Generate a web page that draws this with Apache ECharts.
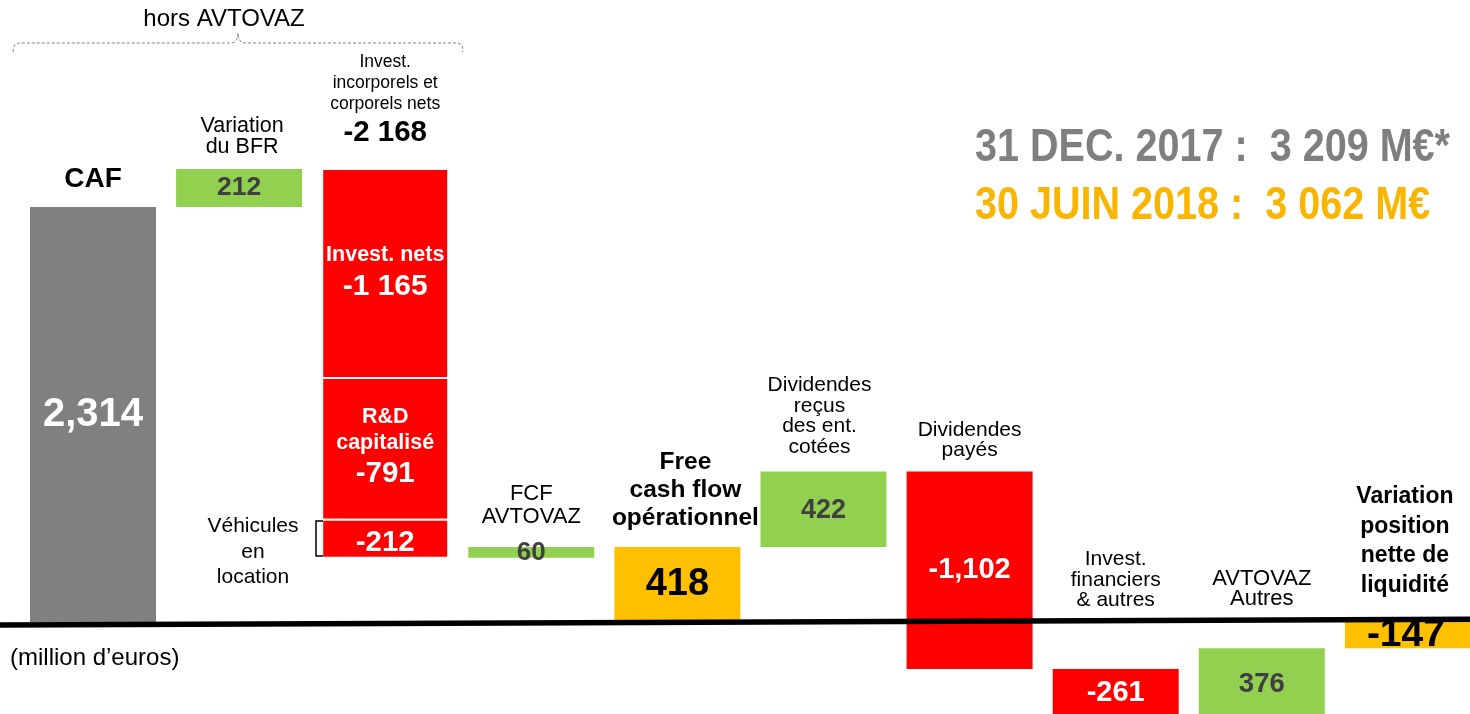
<!DOCTYPE html>
<html>
<head>
<meta charset="utf-8">
<script src="https://cdn.jsdelivr.net/npm/echarts@6/dist/echarts.min.js"></script>
<style>
html,body{margin:0;padding:0;background:#fff;}
#chart{width:1470px;height:714px;}
</style>
</head>
<body>
<div id="chart"></div>
<script>
// ---------- DATA ----------
const categories = ['CAF', 'Variation du BFR', 'Invest. incorporels et corporels nets', 'FCF AVTOVAZ',
  'Free cash flow opérationnel', 'Dividendes reçus des ent. cotées', 'Dividendes payés',
  'Invest. financiers & autres', 'AVTOVAZ Autres', 'Variation position nette de liquidité'];
const values = [2314, 212, -2168, 60, 418, 422, -1102, -261, 376, -147];
const kinds = ['total', 'delta', 'delta', 'delta', 'total', 'delta', 'delta', 'delta', 'delta', 'total'];
const investParts = [-1165, -791, -212];
const investPartNames = ['Invest. nets', 'R&D capitalisé', 'Véhicules en location'];
const valueLabels = ['2,314', '212', '-2 168', '60', '418', '422', '-1,102', '-261', '376', '-147'];
const investPartLabels = ['-1 165', '-791', '-212'];
const openingCash = '31 DEC. 2017 :  3 209 M€*';
const closingCash = '30 JUIN 2018 :  3 062 M€';

// ---------- STYLE ----------
const GRAY = '#808080', GREEN = '#92D050', RED = '#FF0000', ORANGE = '#FFC000';
const FONT = "'Liberation Sans', Arial, sans-serif";
const BAR_W = 126;
const X_MIN = -0.6366, X_MAX = 9.425;

// build waterfall items [x, low, high] from the values
const items = [];
const fills = [];
const splitFlags = [];
let running = 0;
values.forEach((v, i) => {
  if (kinds[i] === 'total') {
    items.push([i, Math.min(0, v), Math.max(0, v)]);
    fills.push(i === 0 ? GRAY : ORANGE);
    splitFlags.push(false);
    running = v;
  } else if (i === 2) {
    investParts.forEach(p => {
      const s = running, e = running + p;
      items.push([i, Math.min(s, e), Math.max(s, e)]);
      fills.push(RED);
      splitFlags.push(true);
      running = e;
    });
  } else {
    const s = running, e = running + v;
    items.push([i, Math.min(s, e), Math.max(s, e)]);
    fills.push(v >= 0 ? GREEN : RED);
    splitFlags.push(false);
    running = e;
  }
});

const chart = echarts.init(document.getElementById('chart'), null, {renderer: 'canvas'});
chart.setOption({
  animation: false,
  grid: {left: 0, right: 0, top: 0, bottom: 0},
  xAxis: {type: 'value', min: X_MIN, max: X_MAX, show: false},
  yAxis: {type: 'value', min: -513, max: 3469, show: false},
  series: [
    {
      type: 'custom',
      data: items,
      z: 2,
      clip: false,
      renderItem: function (params, api) {
        const x = api.value(0), lo = api.value(1), hi = api.value(2);
        const pTop = api.coord([x, hi]);
        const pBot = api.coord([x, lo]);
        const split = splitFlags[params.dataIndex];
        return {
          type: 'rect',
          shape: {x: pTop[0] - BAR_W / 2, y: pTop[1], width: BAR_W, height: pBot[1] - pTop[1]},
          style: {fill: fills[params.dataIndex], stroke: split ? '#fff' : null, lineWidth: split ? 2 : 0}
        };
      }
    },
    {
      // zero baseline (slightly tilted as in the source slide)
      type: 'line',
      z: 10,
      symbol: 'none',
      silent: true,
      data: [[X_MIN, -16], [X_MAX, 16]],
      lineStyle: {color: '#000', width: 5.5}
    }
  ]
});

function cx(i) { return chart.convertToPixel({gridIndex: 0}, [i, 0])[0]; }

function txt(x, y, text, size, opts) {
  opts = opts || {};
  return {
    type: 'text', x: x, y: y, z: 100,
    scaleX: opts.scaleX || 1,
    style: {
      text: text,
      font: (opts.bold ? 'bold ' : '') + size + 'px ' + FONT,
      fill: opts.color || '#000',
      align: opts.align || 'center', textAlign: opts.align || 'center',
      verticalAlign: 'middle', textVerticalAlign: 'middle',
      lineHeight: opts.lh || Math.round(size * 1.15)
    }
  };
}

const DARK = '#404040';
const g = [];
// header brace
g.push(txt(224, 19, 'hors AVTOVAZ', 24));
g.push({
  type: 'polyline', z: 100,
  shape: {points: [[13, 52], [13.5, 47], [15.5, 44], [19, 43], [231, 43], [235, 42], [237.5, 38], [238, 33],
    [238.5, 38], [241, 42], [245, 43], [457, 43], [460.5, 44], [462.5, 47], [463, 52]]},
  style: {fill: null, stroke: '#808080', lineWidth: 1, lineDash: [3, 2]}
});
// title
g.push(txt(975, 148, openingCash, 46, {bold: true, color: '#7F7F7F', align: 'left', scaleX: 0.86}));
g.push(txt(975, 206, closingCash, 46, {bold: true, color: '#F9B500', align: 'left', scaleX: 0.86}));
g.push(txt(10, 658, '(million d\u2019euros)', 24, {align: 'left'}));

// CAF
g.push(txt(cx(0), 179, 'CAF', 28, {bold: true}));
g.push(txt(cx(0), 415, valueLabels[0], 40, {bold: true, color: '#fff'}));
// BFR
g.push(txt(cx(1) + 3, 137, 'Variation\ndu BFR', 21.5, {lh: 21}));
g.push(txt(cx(1), 188, valueLabels[1], 26.5, {bold: true, color: DARK}));
// Invest
g.push(txt(cx(2), 83, 'Invest.\nincorporels et\ncorporels nets', 17.5, {lh: 21}));
g.push(txt(cx(2), 133, valueLabels[2], 29.5, {bold: true}));
g.push(txt(cx(2), 255, 'Invest. nets', 21.5, {bold: true, color: '#fff'}));
g.push(txt(cx(2), 287, investPartLabels[0], 30, {bold: true, color: '#fff'}));
g.push(txt(cx(2), 430, 'R&D\ncapitalisé', 21.5, {bold: true, color: '#fff', lh: 26}));
g.push(txt(cx(2), 474, investPartLabels[1], 29.5, {bold: true, color: '#fff'}));
g.push(txt(cx(2), 543, investPartLabels[2], 29.5, {bold: true, color: '#fff'}));
g.push(txt(253, 552, 'Véhicules\nen\nlocation', 21, {lh: 25.5}));
g.push({
  type: 'polyline', z: 100,
  shape: {points: [[323, 521], [316, 521], [316, 556], [323, 556]]},
  style: {fill: null, stroke: '#000', lineWidth: 1.5}
});
// FCF AVTOVAZ
g.push(txt(cx(3), 505, 'FCF\nAVTOVAZ', 22, {lh: 23}));
g.push(txt(cx(3), 553, valueLabels[3], 26, {bold: true, color: DARK}));
// Free cash flow
g.push(txt(cx(4) + 8, 490, 'Free\ncash flow\nopérationnel', 24.5, {bold: true, lh: 28}));
g.push(txt(cx(4), 585, valueLabels[4], 38, {bold: true}));
// Dividendes reçus
g.push(txt(cx(5) - 4, 416, 'Dividendes\nreçus\ndes ent.\ncotées', 21, {lh: 20.5}));
g.push(txt(cx(5), 511, valueLabels[5], 27, {bold: true, color: DARK}));
// Dividendes payés
g.push(txt(cx(6), 440, 'Dividendes\npayés', 21, {lh: 20.5}));
g.push(txt(cx(6), 570, valueLabels[6], 29, {bold: true, color: '#fff'}));
// Invest financiers
g.push(txt(cx(7), 580, 'Invest.\nfinanciers\n& autres', 21, {lh: 20.5}));
g.push(txt(cx(7), 693, valueLabels[7], 29, {bold: true, color: '#fff'}));
// AVTOVAZ Autres
g.push(txt(cx(8), 589, 'AVTOVAZ\nAutres', 22, {lh: 20.5}));
g.push(txt(cx(8), 684, valueLabels[8], 27.5, {bold: true, color: DARK}));
// Variation position nette
g.push(txt(cx(9) - 3, 541, 'Variation\nposition\nnette de\nliquidité', 23, {bold: true, lh: 29.5}));
g.push(txt(cx(9) - 2, 635, valueLabels[9], 39, {bold: true}));

chart.setOption({graphic: {elements: g}});
</script>
</body>
</html>
